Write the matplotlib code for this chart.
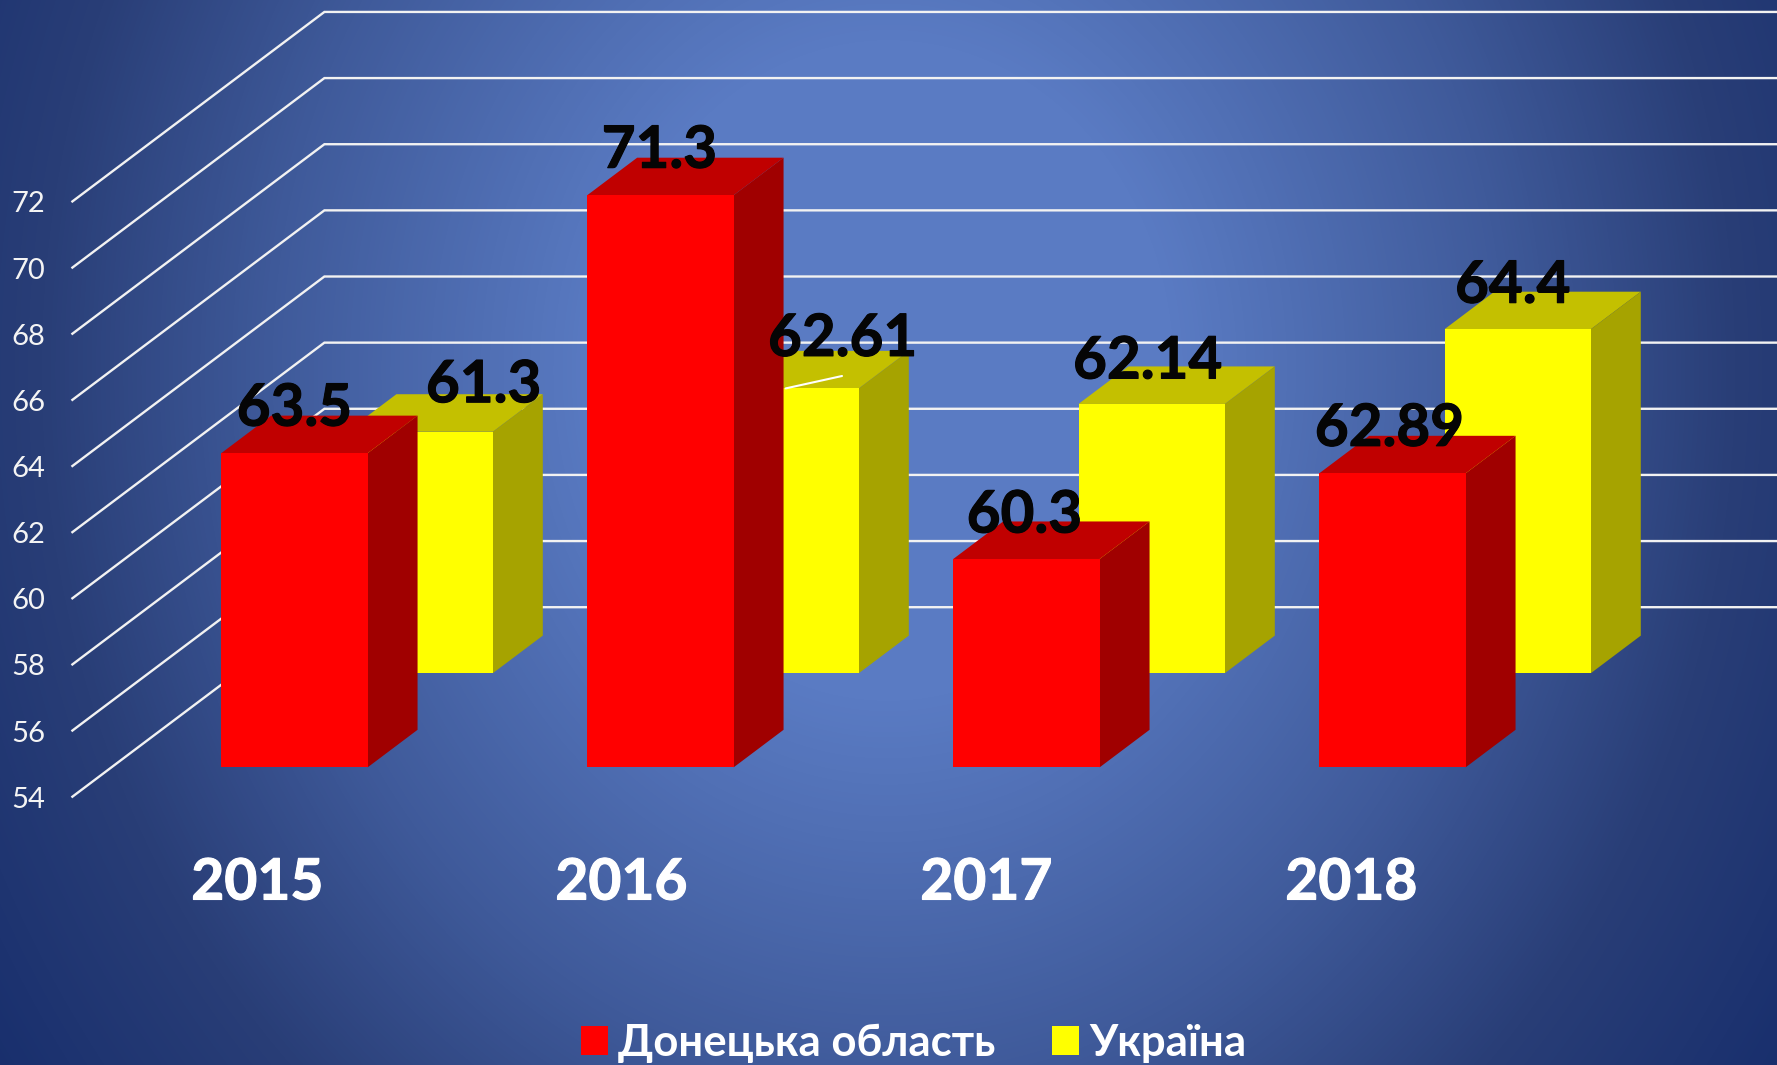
import numpy as np
import matplotlib
matplotlib.use("Agg")
import matplotlib.pyplot as plt
import matplotlib.patheffects as pe
from matplotlib.patches import Patch
from matplotlib.colors import LinearSegmentedColormap

years = ["2015", "2016", "2017", "2018"]
donetsk = [63.5, 71.3, 60.3, 62.89]
ukraine = [61.3, 62.61, 62.14, 64.4]
donetsk_labels = ["63.5", "71.3", "60.3", "62.89"]
ukraine_labels = ["61.3", "62.61", "62.14", "64.4"]
y_ticks = [54, 56, 58, 60, 62, 64, 66, 68, 70, 72]
series_names = ["Донецька область", "Україна"]

W, H = 1777, 1065
PX_CAT, PX_VAL = 366.0, 33.07
X0, Y0 = 255.4, 796.7
DEPTH_DX, DEPTH_DY = 252.0, 189.5
BASE = 54
HALF = 0.2

plt.rcParams["font.family"] = ["Lato", "Open Sans", "DejaVu Sans"]
fig = plt.figure(figsize=(W / 100, H / 100), dpi=100)

# background gradient
bg = fig.add_axes([0, 0, 1, 1], zorder=0)
bg.axis("off")
yy, xx = np.mgrid[0:H, 0:W]
r = np.hypot((xx - 888) / 950.0, (yy - 370) / 1100.0)
stops = [(0, "#5a7bc3"), (0.30, "#5a7bc3"), (0.65, "#3f5a9a"), (0.89, "#293e77"), (1.22, "#132a6a")]
cm = LinearSegmentedColormap.from_list("bg", [(p / 1.22, c) for p, c in stops])
bg.imshow(r, cmap=cm, vmin=0, vmax=1.22, aspect="auto", extent=(0, W, H, 0))

ax = fig.add_axes([0, 0, 1, 1], zorder=1)
ax.patch.set_alpha(0)
ax.axis("off")
ax.set_xlim(-X0 / PX_CAT, (W - X0) / PX_CAT)
ax.set_ylim(BASE + (Y0 - H) / PX_VAL, BASE + Y0 / PX_VAL)


def proj(cat, val, depth):
    return (cat + depth * DEPTH_DX / PX_CAT, val + depth * DEPTH_DY / PX_VAL)


GRID = "#f2f2f2"
for t in y_ticks:
    p0 = proj(-0.5, t, 0)
    p1 = proj(-0.5, t, 1)
    p2 = proj(3.5, t, 1)
    ax.plot([p0[0], p1[0], p2[0]], [p0[1], p1[1], p2[1]], color=GRID, lw=1.7, zorder=1,
            solid_joinstyle="miter")
    ax.annotate(str(t), xy=p0, xytext=(-44, -3), textcoords="offset pixels", color="#f4f4f4",
                fontsize=21, ha="center", va="center", zorder=6)


def bar(cat, val, d0, d1, front, top, side, z):
    l, r_ = cat - HALF, cat + HALF
    ax.fill(*zip(proj(l, val, d0), proj(r_, val, d0), proj(r_, val, d1), proj(l, val, d1)),
            color=top, lw=0, zorder=z)
    ax.fill(*zip(proj(r_, BASE, d0), proj(r_, val, d0), proj(r_, val, d1), proj(r_, BASE, d1)),
            color=side, lw=0, zorder=z)
    ax.fill(*zip(proj(l, BASE, d0), proj(r_, BASE, d0), proj(r_, val, d0), proj(l, val, d0)),
            color=front, lw=0, zorder=z)


cats = np.arange(len(years))
for c, v in zip(cats, ukraine):
    bar(c, v, 0.652, 0.85, "#ffff00", "#c4c000", "#a6a300", 2)
for c, v in zip(cats, donetsk):
    bar(c, v, 0.155, 0.353, "#ff0000", "#c00000", "#a00000", 3)

# data labels: offsets from the centre-top of the front face, in pixels
red_off = [(0, 44), (-1, 44), (-2, 43), (-3, 44)]
yel_off = [(64, 46), (57, 49), (-4, 42), (-5, 43)]
LBL = dict(color="#050505", fontsize=42, fontweight="bold", ha="center", va="center", zorder=8,
           path_effects=[pe.withStroke(linewidth=0.8, foreground="#050505")])
for c, v, s, o in zip(cats, donetsk, donetsk_labels, red_off):
    ax.annotate(s, xy=proj(c, v, 0.155), xytext=o, textcoords="offset pixels", **LBL)
for c, v, s, o in zip(cats, ukraine, ukraine_labels, yel_off):
    ax.annotate(s, xy=proj(c, v, 0.652), xytext=o, textcoords="offset pixels", **LBL)

# leader line of the moved 2016 label
ax.annotate("", xy=proj(1, ukraine[1], 0.652), xytext=(842, H - 376), textcoords="figure pixels",
            xycoords="data", arrowprops=dict(arrowstyle="-", color="white", lw=1.5,
                                             shrinkA=0, shrinkB=0,
                                             relpos=(0.5, 0.5)), zorder=4)

cat_off = [2, 0, -1, -2]
for c, y, o in zip(cats, years, cat_off):
    ax.annotate(y, xy=(c, BASE), xytext=(o, 796.7 - 883), textcoords="offset pixels", color="white",
                fontsize=41, fontweight="bold", ha="center", va="center", zorder=6,
                path_effects=[pe.withStroke(linewidth=0.8, foreground="white")])

handles = [Patch(facecolor="#ff0000", lw=0), Patch(facecolor="#ffff00", lw=0)]
leg = ax.legend(handles, series_names, ncol=2, frameon=False, loc="lower center",
                bbox_to_anchor=(0.5142, 0.002), labelcolor="white",
                prop=dict(family=["Lato", "Open Sans", "DejaVu Sans"], weight="bold", size=31.5),
                handlelength=0.62, handleheight=0.62, handletextpad=0.23, columnspacing=1.3,
                borderpad=0, borderaxespad=0)

fig.savefig("out.png", dpi=100)
